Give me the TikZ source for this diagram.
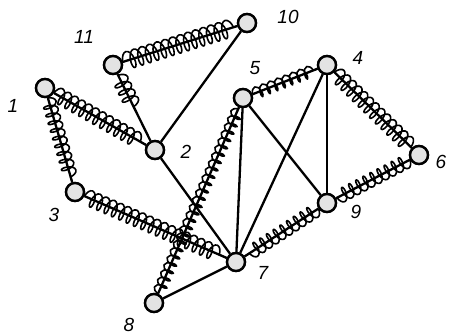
\documentclass[tikz,border=0pt]{standalone}
\usepackage{fontspec}
\setmainfont{Liberation Sans}
\usetikzlibrary{decorations.pathmorphing,calc}
\begin{document}
\begin{tikzpicture}[x=1pt,y=-1pt,
  mass/.style={circle, draw, line width=2.4pt, fill=gray!22, minimum size=18pt, inner sep=0pt},
  lbl/.style={font=\fontsize{19}{19}\selectfont\itshape},
  rod/.style={line width=2.3pt},
  spring/.style={line width=1.6pt, line join=round, decorate, decoration={coil, amplitude=#1, segment length=8pt, aspect=0.45}},
  spring/.default=7pt]
\useasboundingbox (0,0) rectangle (449,336);
% nodes
\node[mass] (n1) at (45,88) {};
\node[mass] (n2) at (155,150) {};
\node[mass] (n3) at (75,192) {};
\node[mass] (n4) at (327,65) {};
\node[mass] (n5) at (243,98) {};
\node[mass] (n6) at (419,155) {};
\node[mass] (n7) at (236,262) {};
\node[mass] (n8) at (154,303) {};
\node[mass] (n9) at (327,203) {};
\node[mass] (n10) at (247,23) {};
\node[mass] (n11) at (113,65) {};
% labels
\node[lbl] (l1) at (13,106) {1};
\node[lbl] (l2) at (186,152) {2};
\node[lbl] (l3) at (54,215) {3};
\node[lbl] (l4) at (358,58) {4};
\node[lbl] (l5) at (255,68) {5};
\node[lbl] (l6) at (441,162) {6};
\node[lbl] (l7) at (263,273) {7};
\node[lbl] (l8) at (129,325) {8};
\node[lbl] (l9) at (356,212) {9};
\node[lbl] (l10) at (288,17) {10};
\node[lbl] (l11) at (84,37) {11};
% rods
\foreach \a/\b in {n1/n2,n1/n3,n11/n10,n11/n2,n3/n7,n5/n4,n4/n6,n6/n9,n9/n7,n8/n5,
                   n10/n2,n2/n7,n5/n7,n5/n9,n4/n7,n4/n9,n8/n7}
  \draw[rod] (\a) -- (\b);
% springs
\coordinate (s11a) at ($(n11)!0.12!(n2)$);
\coordinate (s11b) at ($(n11)!0.55!(n2)$);
\draw[spring=8pt] (n1) -- (n2);
\draw[spring=7pt] (n1) -- (n3);
\draw[spring=9pt] (n11) -- (n10);
\draw[spring=8pt] (s11a) -- (s11b);
\draw[spring=8pt] (n3) -- (n7);
\draw[spring=6pt] (n5) -- (n4);
\draw[spring=8pt] (n4) -- (n6);
\draw[spring=7pt] (n6) -- (n9);
\draw[spring=7pt] (n9) -- (n7);
\draw[spring=6pt] (n8) -- (n5);
% redraw masses on top
\foreach \n in {n1,n2,n3,n4,n5,n6,n7,n8,n9,n10,n11}
  \node[mass] at (\n) {};
\end{tikzpicture}
\end{document}
